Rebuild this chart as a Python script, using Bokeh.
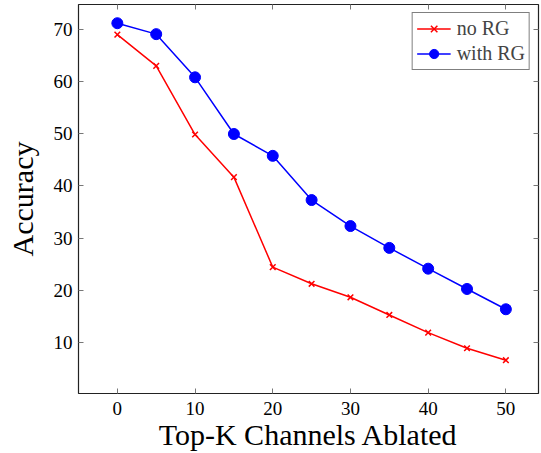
from bokeh.plotting import figure
from bokeh.models import Range1d, LinearAxis, FixedTicker, Legend, LegendItem
from bokeh.embed import file_html
from bokeh.resources import INLINE

k = [0, 5, 10, 15, 20, 25, 30, 35, 40, 45, 50]
no_rg = [69.1, 63.1, 49.9, 41.7, 24.4, 21.2, 18.6, 15.2, 11.8, 8.8, 6.5]
with_rg = [71.3, 69.2, 60.9, 50.0, 45.8, 37.3, 32.3, 28.1, 24.1, 20.2, 16.3]
x_ticks = [0, 10, 20, 30, 40, 50]
y_ticks = [10, 20, 30, 40, 50, 60, 70]

FONT = "Liberation Serif"

p = figure(width=541, height=453, output_backend="svg", toolbar_location=None,
           x_range=Range1d(-5, 54.2), y_range=Range1d(0.1, 74.9),
           min_border_left=78, min_border_right=3, min_border_top=4, min_border_bottom=60)
p.grid.visible = False
p.outline_line_color = "#222222"
p.outline_line_width = 1.2
p.background_fill_color = "white"
p.border_fill_color = "white"

for ax in (p.xaxis[0], p.yaxis[0]):
    ax.axis_line_color = None
    ax.major_tick_in = 5
    ax.major_tick_out = 0
    ax.minor_tick_line_color = None
    ax.major_tick_line_color = "#777777"
    ax.major_label_text_font = FONT
    ax.major_label_text_font_size = "19px"
    ax.major_label_text_color = "black"
    ax.axis_label_text_font = FONT
    ax.axis_label_text_font_style = "normal"
    ax.axis_label_text_font_size = "30px"
    ax.axis_label_text_color = "black"

p.xaxis.ticker = FixedTicker(ticks=x_ticks)
p.yaxis.ticker = FixedTicker(ticks=y_ticks)
p.xaxis.axis_label = "Top-K Channels Ablated"
p.yaxis.axis_label = "Accuracy"
p.xaxis.major_label_standoff = 8
p.yaxis.major_label_standoff = 6
p.xaxis.axis_label_standoff = 0
p.yaxis.axis_label_standoff = 12

top = LinearAxis(ticker=FixedTicker(ticks=x_ticks),
                 major_label_overrides={t: "" for t in x_ticks},
                 major_label_standoff=0, major_label_text_font_size="1px",
                 axis_line_color=None, major_tick_in=5, major_tick_out=0,
                 minor_tick_line_color=None, major_tick_line_color="#777777")
right = LinearAxis(ticker=FixedTicker(ticks=y_ticks),
                   major_label_overrides={t: "" for t in y_ticks},
                   major_label_standoff=0, major_label_text_font_size="1px",
                   axis_line_color=None, major_tick_in=5, major_tick_out=0,
                   minor_tick_line_color=None, major_tick_line_color="#777777")
p.add_layout(top, "above")
p.add_layout(right, "right")

r1 = p.line(k, no_rg, line_color="red", line_width=1.5)
s1 = p.scatter(k, no_rg, marker="x", size=8, line_color="red", line_width=1.5)
r2 = p.line(k, with_rg, line_color="blue", line_width=1.5)
s2 = p.scatter(k, with_rg, marker="circle", size=11, fill_color="blue", line_color="blue")

legend = Legend(items=[LegendItem(label="no RG", renderers=[r1, s1]),
                       LegendItem(label="with RG", renderers=[r2, s2])],
                location="top_right")
legend.label_text_font = FONT
legend.label_text_font_size = "20px"
legend.border_line_color = "black"
legend.border_line_width = 1
legend.margin = 8
legend.padding = 4
legend.spacing = 2
legend.glyph_width = 34
legend.label_standoff = 6
legend.label_height = 23
legend.glyph_height = 23
p.add_layout(legend)

html = file_html(p, INLINE)
html = html.replace("<body>", '<body style="margin:0">', 1)
open("out.html", "w").write(html)
